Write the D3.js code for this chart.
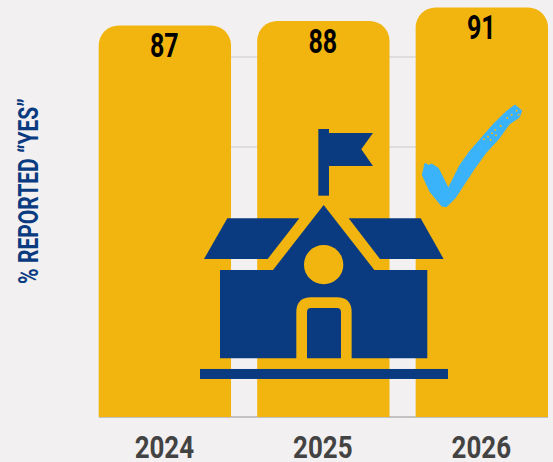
<!DOCTYPE html>
<html><head><meta charset="utf-8">
<script src="https://cdn.jsdelivr.net/npm/d3@7"></script>
<style>html,body{margin:0;padding:0;background:#f2f0f1;overflow:hidden}svg{display:block}</style>
</head><body><svg id="c" width="553" height="462"></svg>
<script>
const years = ["2024","2025","2026"];
const yes = [87,88,91];
const ticks = [0,20,40,60,80];
const axisTitle = "% REPORTED “YES”";

const svg = d3.select("#c");
const BAR="#f2b50f", NAVY="#0a3b80", SKY="#3bb3fb", FONT="Roboto, sans-serif";
const x = d3.scaleBand().domain(years).range([98.7,548]).paddingInner(0.165).paddingOuter(0);
const y = d3.scaleLinear().domain([0,100]).range([417,-33]);

svg.append("g").selectAll("line").data(ticks).join("line")
  .attr("x1",99).attr("x2",548).attr("y1",d=>y(d)).attr("y2",d=>y(d))
  .attr("stroke",d=>d===0?"#b5b3b1":"#d9d8d8").attr("stroke-width",1.5);

svg.append("g").selectAll("path").data(d3.zip(years,yes)).join("path")
  .attr("fill",BAR)
  .attr("d",([k,v])=>{
    const a=x(k), w=x.bandwidth(), t=y(v), b=y(0), r=20;
    return `M${a},${b}V${t+r}A${r},${r} 0 0 1 ${a+r},${t}H${a+w-r}A${r},${r} 0 0 1 ${a+w},${t+r}V${b}Z`;
  });

svg.append("g").selectAll("text").data(d3.zip(years,yes)).join("text")
  .attr("font-family",FONT).attr("font-weight",700).attr("font-size",33).attr("fill","#000")
  .attr("text-anchor","middle")
  .attr("transform",([k,v])=>`translate(${x(k)+x.bandwidth()/2-0.5},${y(v)+31.5}) scale(0.76,1)`)
  .text(([k,v])=>v);

svg.append("g").selectAll("text").data(years).join("text")
  .attr("font-family",FONT).attr("font-weight",700).attr("font-size",32).attr("fill","#434343")
  .attr("text-anchor","middle")
  .attr("transform",k=>`translate(${x(k)+x.bandwidth()/2-0.5},458) scale(0.81,1)`)
  .text(k=>k);

svg.append("text").attr("font-family",FONT).attr("font-weight",700).attr("font-size",27)
  .attr("fill",NAVY).attr("text-anchor","middle")
  .attr("transform","translate(38,191) rotate(-90) scale(0.78,1)")
  .text(axisTitle);

// school icon
const icon = svg.append("g").attr("transform","translate(190,110) scale(0.3333)").attr("fill",NAVY);
icon.append("rect").attr("x",385).attr("y",57).attr("width",32).attr("height",200);
icon.append("path").attr("d","M417,69H549L514,118L549,168H417Z");
icon.append("path").attr("d","M112,325H328L233,447H42Z");
icon.append("path").attr("d","M476,325H692L761,447H570Z");
icon.append("path").attr("d","M90,480H249L401,285L553,480H712V745H485V607Q485,562 440,562H364Q319,562 319,607V745H90Z");
icon.append("circle").attr("cx",401).attr("cy",464).attr("r",59).attr("fill",BAR);
icon.append("path").attr("d","M351,745V606Q351,594 363,594H441Q453,594 453,606V745Z");
icon.append("rect").attr("x",30).attr("y",777).attr("width",744).attr("height",30);

// check mark
const chk = svg.append("g").attr("transform","translate(410,90) scale(0.3333)");
chk.append("path").attr("fill",SKY).attr("stroke",SKY).attr("stroke-width",3).attr("d","M37,255L45,220L55,226L65,222L85,235L115,295L150,225L180,183L215,143L250,103L285,68L315,45L335,62L328,82L298,102L265,148L228,188L192,238L135,325L110,350L95,348L60,305Z");
const specks=[[222,148],[234,140],[246,130],[242,150],[256,120],[258,136],[272,108],[292,84],[305,74],[320,62],[326,74]];
chk.append("g").attr("fill",BAR).selectAll("circle").data(specks).join("circle")
  .attr("cx",d=>d[0]).attr("cy",d=>d[1]).attr("r",3);
</script></body></html>
